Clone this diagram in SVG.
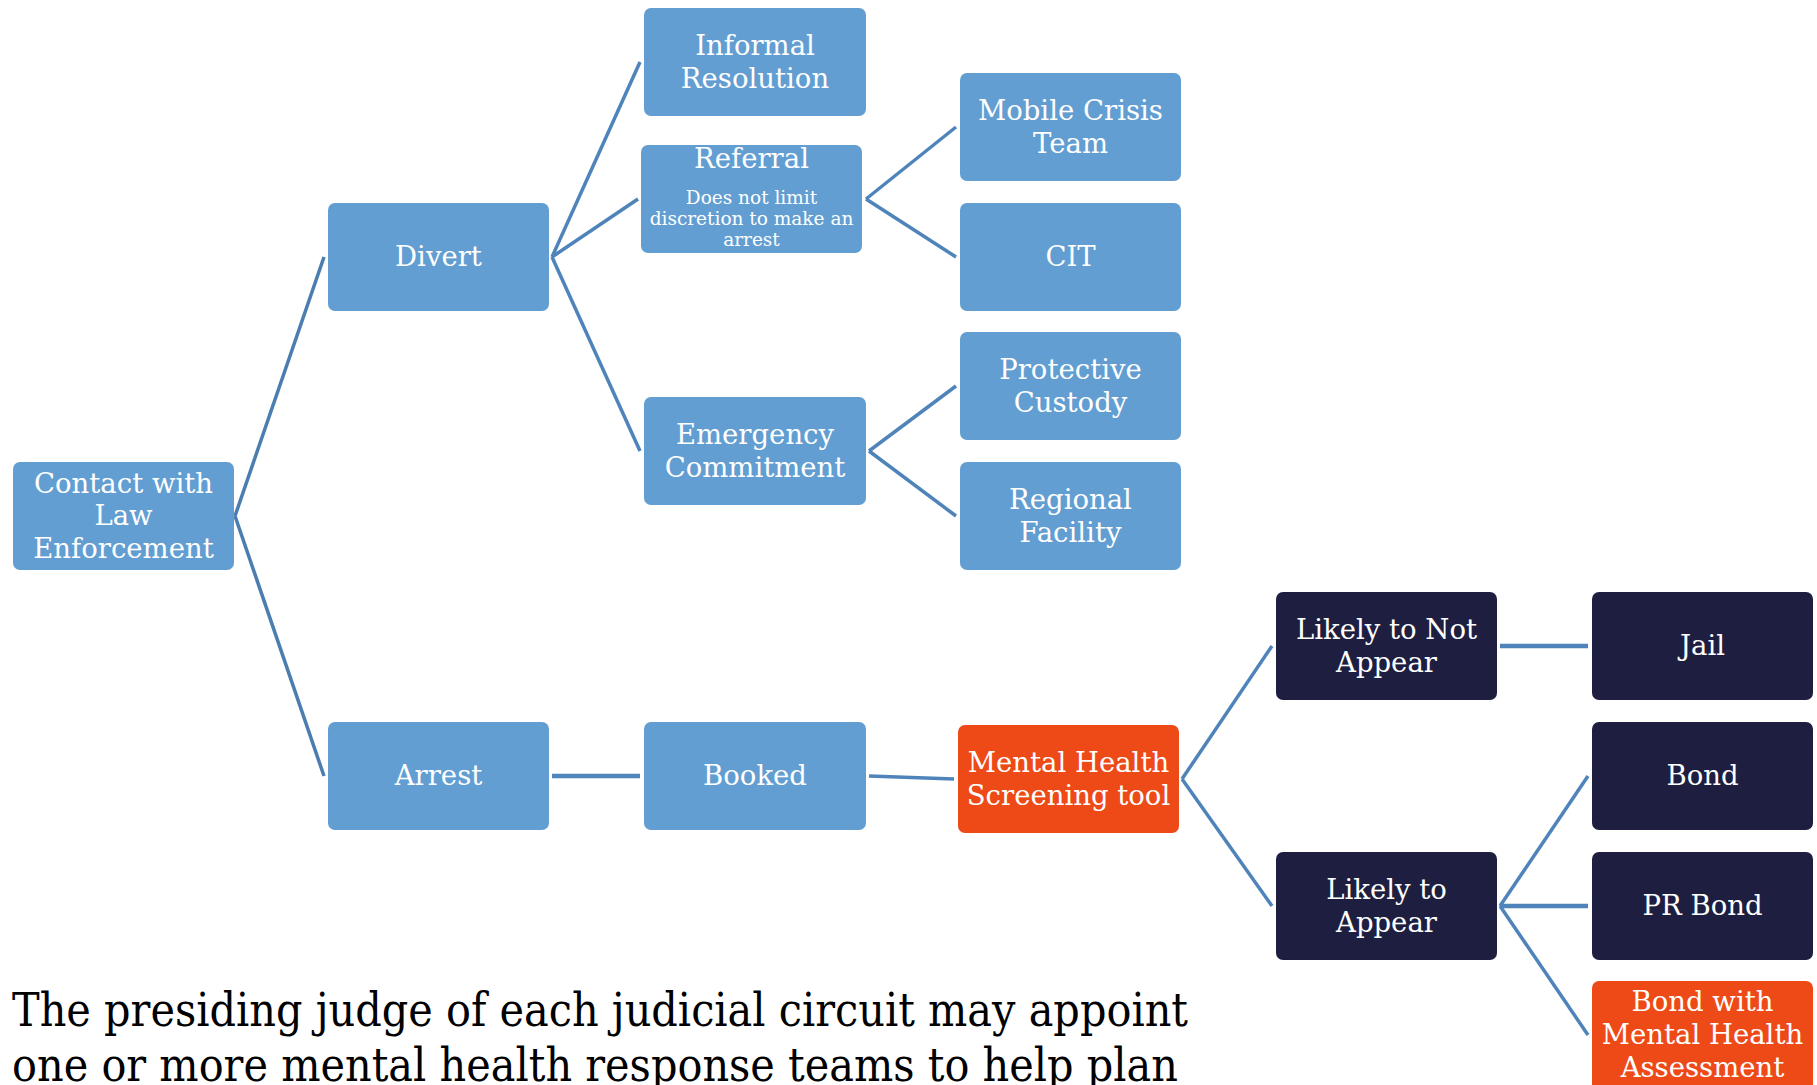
<svg xmlns="http://www.w3.org/2000/svg" width="1817" height="1085" viewBox="0 0 1817 1085">
<style>
.n rect{rx:7px;ry:7px}
.b rect{fill:#629ed1}
.d rect{fill:#1e1f40}
.o rect{fill:#ee4a17}
.n text{fill:#ffffff;font-family:"DejaVu Serif","Liberation Serif",serif;font-size:27.5px;text-anchor:middle}
.n text.s{font-size:18.5px}
.c line{stroke:#4e84ba;stroke-width:3.5;fill:none}
.c line.k{stroke:#4a7db0}
.cap{font-family:"DejaVu Serif","Liberation Serif",serif;font-size:47px;fill:#000}
</style>
<rect width="1817" height="1085" fill="#ffffff"/>
<g id="connectors" class="c">
<line class="k" x1="235" y1="516" x2="324" y2="257"/>
<line class="k" x1="235" y1="516" x2="324" y2="776"/>
<line x1="552" y1="257" x2="640" y2="62"/>
<line x1="552" y1="257" x2="638" y2="199"/>
<line x1="552" y1="257" x2="640" y2="451"/>
<line x1="866" y1="199" x2="956" y2="127"/>
<line x1="866" y1="199" x2="956" y2="257"/>
<line x1="869" y1="451" x2="956" y2="386"/>
<line x1="869" y1="451" x2="956" y2="516"/>
<line x1="552" y1="776" x2="640" y2="776" style="stroke-width:4.5"/>
<line x1="869" y1="776" x2="954" y2="779"/>
<line x1="1182" y1="779" x2="1272" y2="646"/>
<line x1="1182" y1="779" x2="1272" y2="906"/>
<line x1="1500" y1="646" x2="1588" y2="646" style="stroke-width:4.5"/>
<line x1="1500" y1="906" x2="1588" y2="776"/>
<line x1="1500" y1="906" x2="1588" y2="906" style="stroke-width:4.5"/>
<line x1="1500" y1="906" x2="1588" y2="1035"/>
</g>
<g id="contact" class="n b"><rect x="13" y="462" width="221" height="108"/><text x="123.5" y="492.5">Contact with</text><text x="123.5" y="525">Law</text><text x="123.5" y="558">Enforcement</text></g>
<g id="divert" class="n b"><rect x="328" y="203" width="221" height="108"/><text x="438.5" y="266">Divert</text></g>
<g id="informal" class="n b"><rect x="644" y="8" width="222" height="108"/><text x="755" y="55">Informal</text><text x="755" y="88">Resolution</text></g>
<g id="referral" class="n b"><rect x="641" y="145" width="221" height="108"/><text x="751.5" y="168">Referral</text><text class="s" x="751.5" y="204">Does not limit</text><text class="s" x="751.5" y="225">discretion to make an</text><text class="s" x="751.5" y="246">arrest</text></g>
<g id="emergency" class="n b"><rect x="644" y="397" width="222" height="108"/><text x="755" y="444">Emergency</text><text x="755" y="477">Commitment</text></g>
<g id="mobile" class="n b"><rect x="960" y="73" width="221" height="108"/><text x="1070.5" y="120">Mobile Crisis</text><text x="1070.5" y="153">Team</text></g>
<g id="cit" class="n b"><rect x="960" y="203" width="221" height="108"/><text x="1070.5" y="266">CIT</text></g>
<g id="protective" class="n b"><rect x="960" y="332" width="221" height="108"/><text x="1070.5" y="379">Protective</text><text x="1070.5" y="412">Custody</text></g>
<g id="regional" class="n b"><rect x="960" y="462" width="221" height="108"/><text x="1070.5" y="509">Regional</text><text x="1070.5" y="542">Facility</text></g>
<g id="arrest" class="n b"><rect x="328" y="722" width="221" height="108"/><text x="438.5" y="785">Arrest</text></g>
<g id="booked" class="n b"><rect x="644" y="722" width="222" height="108"/><text x="755" y="785">Booked</text></g>
<g id="screening" class="n o"><rect x="958" y="725" width="221" height="108"/><text x="1068.5" y="772">Mental Health</text><text x="1068.5" y="805">Screening tool</text></g>
<g id="notappear" class="n d"><rect x="1276" y="592" width="221" height="108"/><text x="1386.5" y="639">Likely to Not</text><text x="1386.5" y="672">Appear</text></g>
<g id="appear" class="n d"><rect x="1276" y="852" width="221" height="108"/><text x="1386.5" y="899">Likely to</text><text x="1386.5" y="932">Appear</text></g>
<g id="jail" class="n d"><rect x="1592" y="592" width="221" height="108"/><text x="1702.5" y="655">Jail</text></g>
<g id="bond" class="n d"><rect x="1592" y="722" width="221" height="108"/><text x="1702.5" y="785">Bond</text></g>
<g id="prbond" class="n d"><rect x="1592" y="852" width="221" height="108"/><text x="1702.5" y="915">PR Bond</text></g>
<g id="bondmh" class="n o"><rect x="1592" y="981" width="221" height="112"/><text x="1702.5" y="1011">Bond with</text><text x="1702.5" y="1044">Mental Health</text><text x="1702.5" y="1077">Assessment</text></g>
<g id="caption">
<text class="cap" x="12" y="1026" textLength="1176" lengthAdjust="spacingAndGlyphs">The presiding judge of each judicial circuit may appoint</text>
<text class="cap" x="12" y="1081" textLength="1166" lengthAdjust="spacingAndGlyphs">one or more mental health response teams to help plan</text>
</g>
</svg>
